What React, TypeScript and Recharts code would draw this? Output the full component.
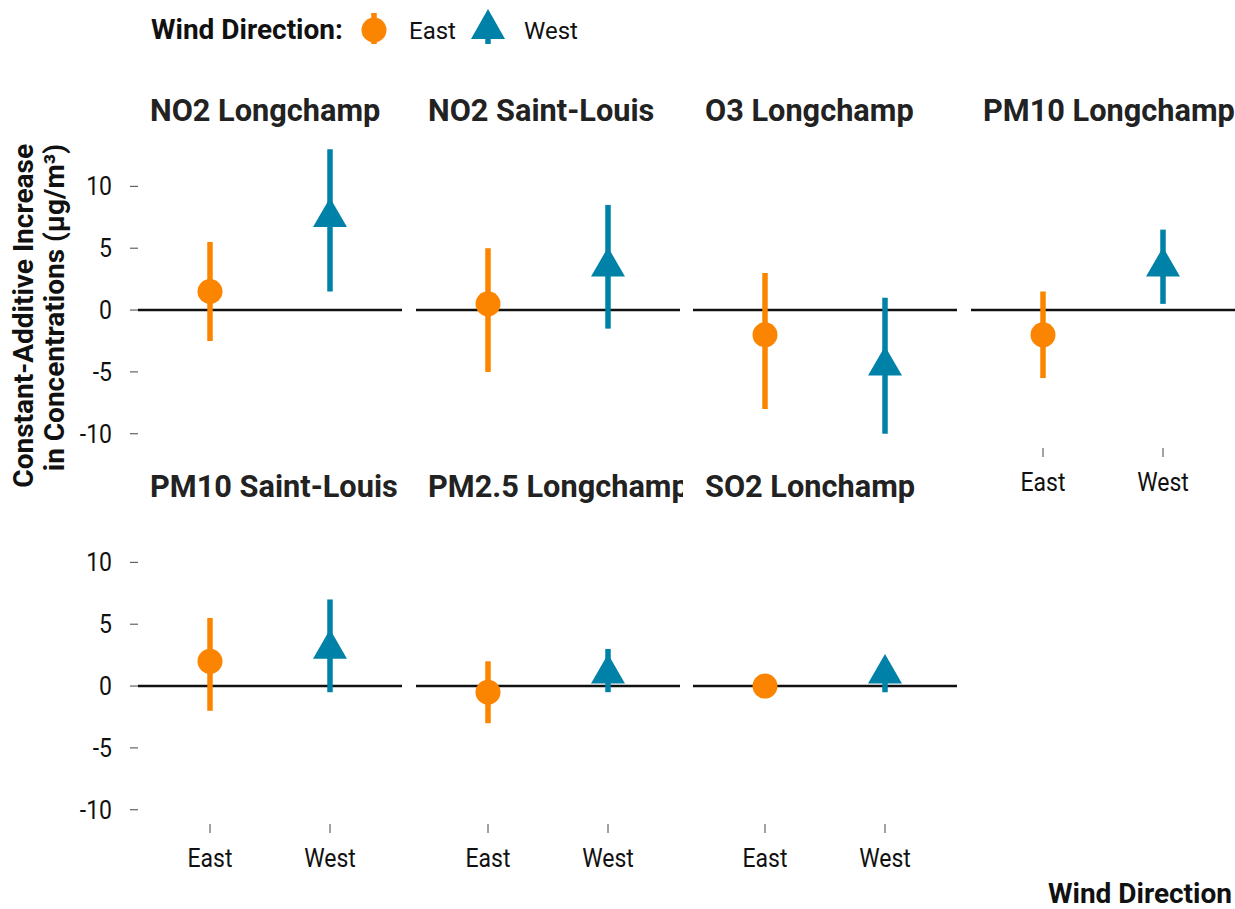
import React from "react";
import { ScatterChart, Scatter, XAxis, YAxis, ErrorBar, ReferenceLine } from "recharts";

const DIRECTIONS = ["East", "West"];
const PANELS = [
  "NO2 Longchamp",
  "NO2 Saint-Louis",
  "O3 Longchamp",
  "PM10 Longchamp",
  "PM10 Saint-Louis",
  "PM2.5 Longchamp",
  "SO2 Lonchamp",
];
// point estimates and 95% intervals, µg/m³
const EAST_EST = [1.5, 0.5, -2, -2, 2, -0.5, 0];
const EAST_LOW = [-2.5, -5, -8, -5.5, -2, -3, -0.2];
const EAST_HIGH = [5.5, 5, 3, 1.5, 5.5, 2, 0.2];
const WEST_EST = [7.5, 3.5, -4.5, 3.5, 3, 1, 1];
const WEST_LOW = [1.5, -1.5, -10, 0.5, -0.5, -0.5, -0.5];
const WEST_HIGH = [13, 8.5, 1, 6.5, 7, 3, 1.5];
const Y_TICKS = [-10, -5, 0, 5, 10];

const ORANGE = "#fb8500";
const BLUE = "#0081a7";
const FONT = "Roboto, 'Noto Sans', sans-serif";

const COL_X = [138, 416, 693, 971];
const ROW_Y = [135, 511];
const PW = 264;
const PH = 313;
const Y_AXIS_W = 138;
const X_AXIS_H = 60;

const circleShape = (props: any) => (
  <circle cx={props.cx} cy={props.cy} r={12.5} fill={ORANGE} />
);

const triangleShape = (props: any) => {
  const r = 19.6;
  const h = r * 0.866;
  const { cx, cy } = props;
  return (
    <polygon
      points={`${cx},${cy - r} ${cx + h},${cy + r / 2} ${cx - h},${cy + r / 2}`}
      fill={BLUE}
    />
  );
};

// narrow-ish tick text, the original uses a condensed face
const xTick = (props: any) => (
  <text
    transform={`translate(${props.x},${props.y}) scale(0.92,1)`}
    textAnchor="middle"
    dy="0.71em"
    fontSize={25}
    fill="#111"
    fontFamily={FONT}
  >
    {DIRECTIONS[props.payload.value - 1]}
  </text>
);

const yTick = (props: any) => (
  <text
    transform={`translate(${props.x},${props.y}) scale(0.92,1)`}
    textAnchor="end"
    dy="0.355em"
    fontSize={25}
    fill="#111"
    fontFamily={FONT}
  >
    {props.payload.value}
  </text>
);

function Panel({ idx }: { idx: number }) {
  const col = idx % 4;
  const row = Math.floor(idx / 4);
  const showY = col === 0;
  const showX = row === 1 || idx === 3;
  const left = showY ? COL_X[col] - Y_AXIS_W : COL_X[col];
  const width = showY ? PW + Y_AXIS_W : PW;
  const height = showX ? PH + X_AXIS_H : PH;

  const east = [
    { x: 1, y: EAST_EST[idx], err: [EAST_EST[idx] - EAST_LOW[idx], EAST_HIGH[idx] - EAST_EST[idx]] },
  ];
  const west = [
    { x: 2, y: WEST_EST[idx], err: [WEST_EST[idx] - WEST_LOW[idx], WEST_HIGH[idx] - WEST_EST[idx]] },
  ];

  return (
    <div style={{ position: "absolute", left, top: ROW_Y[row] }}>
      <ScatterChart width={width} height={height} margin={{ top: 0, right: 0, bottom: 0, left: 0 }}>
        <XAxis
          type="number"
          dataKey="x"
          domain={[0.4, 2.6]}
          ticks={[1, 2]}
          hide={!showX}
          height={X_AXIS_H}
          axisLine={false}
          tickSize={9}
          tickMargin={16}
          tickLine={{ stroke: "#444", strokeWidth: 1 }}
          tick={xTick}
          allowDataOverflow
        />
        <YAxis
          type="number"
          dataKey="y"
          domain={[-11.15, 14.15]}
          ticks={Y_TICKS}
          hide={!showY}
          width={Y_AXIS_W}
          axisLine={false}
          tickSize={8}
          tickMargin={18}
          tickLine={{ stroke: "#444", strokeWidth: 1 }}
          tick={yTick}
          allowDataOverflow
        />
        <ReferenceLine y={0} stroke="#111" strokeWidth={2.5} />
        <Scatter data={east} shape={circleShape} isAnimationActive={false}>
          <ErrorBar dataKey="err" direction="y" width={0} strokeWidth={5.5} stroke={ORANGE} isAnimationActive={false} />
        </Scatter>
        <Scatter data={west} shape={triangleShape} isAnimationActive={false}>
          <ErrorBar dataKey="err" direction="y" width={0} strokeWidth={5.5} stroke={BLUE} isAnimationActive={false} />
        </Scatter>
      </ScatterChart>
    </div>
  );
}

export default function App() {
  return (
    <div
      style={{
        position: "absolute",
        left: 0,
        top: 0,
        width: 1235,
        height: 909,
        background: "#fff",
        fontFamily: FONT,
      }}
    >
      {PANELS.map((_, i) => (
        <Panel key={i} idx={i} />
      ))}
      <svg
        width={1235}
        height={909}
        style={{ position: "absolute", left: 0, top: 0, pointerEvents: "none" }}
        fontFamily={FONT}
      >
        <defs>
          {PANELS.map((_, i) => (
            <clipPath id={`strip-${i}`} key={i}>
              <rect x={COL_X[i % 4]} y={0} width={PW + 3} height={909} />
            </clipPath>
          ))}
        </defs>

        {/* legend */}
        <text x={151} y={39} fontSize={28} fontWeight={700} fill="#111">
          Wind Direction:
        </text>
        <line x1={374} y1={13} x2={374} y2={44} stroke={ORANGE} strokeWidth={5.5} />
        <circle cx={374} cy={30} r={12.5} fill={ORANGE} />
        <text x={409} y={39} fontSize={24} fill="#111">
          {DIRECTIONS[0]}
        </text>
        <line x1={488} y1={29} x2={488} y2={44} stroke={BLUE} strokeWidth={5.5} />
        <polygon points="488,9 505,39 471,39" fill={BLUE} />
        <text x={524} y={39} fontSize={24} fill="#111">
          {DIRECTIONS[1]}
        </text>

        {/* facet strips */}
        {PANELS.map((p, i) => (
          <g key={p} clipPath={`url(#strip-${i})`}>
            <text
              transform={`translate(${COL_X[i % 4] + 12},${i < 4 ? 121 : 497}) scale(0.96,1)`}
              fontSize={32}
              fontWeight={700}
              fill="#222"
            >
              {p}
            </text>
          </g>
        ))}

        {/* axis titles */}
        <text
          transform="translate(33,144) rotate(-90)"
          textAnchor="end"
          fontSize={28}
          fontWeight={700}
          fill="#111"
        >
          Constant-Additive Increase
        </text>
        <text
          transform="translate(64,144) rotate(-90)"
          textAnchor="end"
          fontSize={28}
          fontWeight={700}
          fill="#111"
        >
          in Concentrations (µg/m³)
        </text>
        <text x={1232} y={903} textAnchor="end" fontSize={28} fontWeight={700} fill="#111">
          Wind Direction
        </text>
      </svg>
    </div>
  );
}
